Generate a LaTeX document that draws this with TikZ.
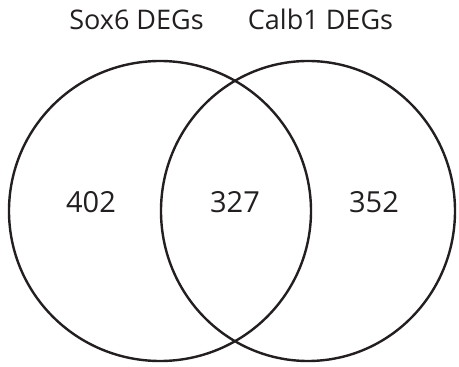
\documentclass[tikz,border=0pt]{standalone}
\usepackage{fontspec}
\setmainfont{Open Sans}
\usetikzlibrary{shapes.geometric}
\definecolor{ink}{HTML}{231F20}
\begin{document}
\begin{tikzpicture}[x=1pt,y=1pt,
  setring/.style={draw=ink, line width=2.4pt, ellipse, inner sep=0pt},
  title/.style={text=ink, font=\fontsize{27}{32}\selectfont, inner sep=0pt, anchor=base},
  count/.style={text=ink, font=\fontsize{29}{34}\selectfont, inner sep=0pt, anchor=base}]
  \useasboundingbox (0,0) rectangle (459,367);
  % the two gene sets
  \node[setring, minimum width=302pt, minimum height=300pt] (sox) at (160,156) {};
  \node[setring, minimum width=294pt, minimum height=300pt] (calb) at (308,156) {};
  % set titles
  \node[title] (soxtitle) at (136.5,337) {Sox6 DEGs};
  \node[title] (calbtitle) at (320.5,337) {Calb1 DEGs};
  % region counts
  \node[count] (only1) at (91,154) {402};
  \node[count] (both) at (235,154) {327};
  \node[count] (only2) at (374,154) {352};
\end{tikzpicture}
\end{document}
